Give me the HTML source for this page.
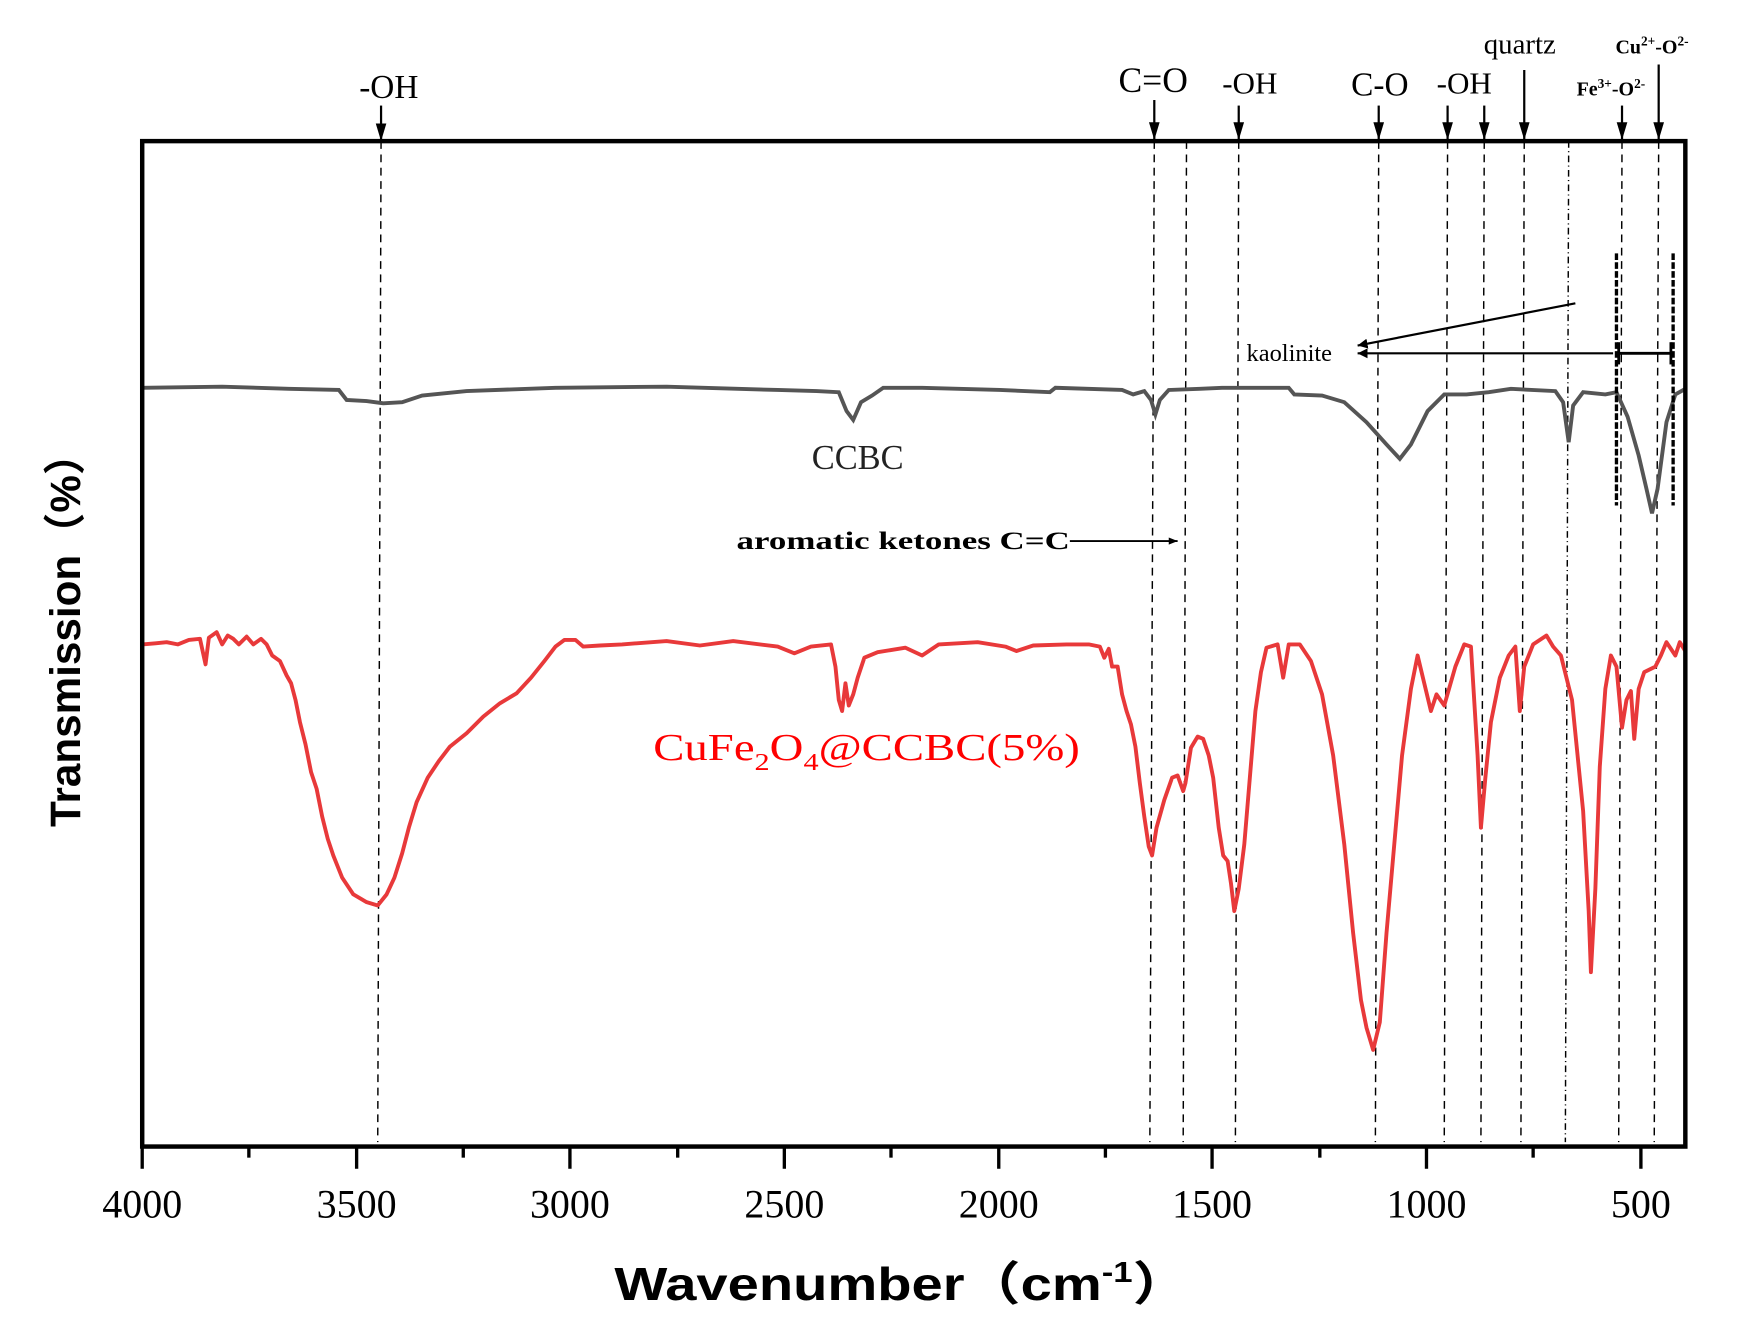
<!DOCTYPE html>
<html><head><meta charset="utf-8"><style>html,body{margin:0;padding:0;background:#fff}svg{display:block}</style></head>
<body>
<svg width="1742" height="1325" viewBox="0 0 1568 1192.6" xmlns="http://www.w3.org/2000/svg">
<rect x="0" y="0" width="1568" height="1193" fill="#fff"/>
<defs><marker id="ah" viewBox="0 0 10 10" refX="10" refY="5" markerWidth="5" markerHeight="5" orient="auto"><path d="M0,1 L10,5 L0,9 z" fill="#000"/></marker>
<marker id="ab" viewBox="0 0 10 10" refX="10" refY="5" markerWidth="9" markerHeight="9" markerUnits="userSpaceOnUse" orient="auto"><path d="M0,0 L10,5 L0,10 z" fill="#000"/></marker>
<marker id="ab2" viewBox="0 0 10 10" refX="10" refY="5" markerWidth="16" markerHeight="30" markerUnits="userSpaceOnUse" orient="auto"><path d="M0,2 L10,5 L0,8 z" fill="#000"/></marker></defs>
<g stroke="#000" stroke-width="1.3" stroke-dasharray="7,5" fill="none">
<line x1="343" y1="127" x2="340" y2="1028"/>
<line x1="1039" y1="127" x2="1035" y2="1028"/>
<line x1="1068" y1="127" x2="1065" y2="1028"/>
<line x1="1115" y1="127" x2="1112" y2="1028"/>
<line x1="1241" y1="127" x2="1238" y2="1028"/>
<line x1="1303" y1="127" x2="1300" y2="1028"/>
<line x1="1336" y1="127" x2="1333" y2="1028"/>
<line x1="1372" y1="127" x2="1369" y2="1028"/>
<line x1="1412" y1="127" x2="1409" y2="1028" stroke-dasharray="6,3,1,3"/>
<line x1="1460" y1="127" x2="1457" y2="1028"/>
<line x1="1493" y1="127" x2="1489" y2="1028"/>
</g>
<polyline fill="none" stroke="#555" stroke-width="3.5" points="128,349 200,348 260,350 305,351 312,360 330,361 345,363 362,362 380,356 420,352 500,349 600,348 700,351 735,352 755,353 762,370 768,378 775,362 785,356 795,349 830,349 900,351 945,353 950,349 1010,351 1020,355 1030,352 1036,360 1040,373 1044,360 1052,351 1080,350 1100,349 1160,349 1165,355 1190,356 1210,362 1230,380 1248,400 1260,413 1270,400 1285,370 1300,355 1320,355 1340,353 1360,350 1400,352 1407,362 1412,398 1416,365 1425,353 1445,355 1455,353 1465,375 1475,410 1482,440 1487,462 1492,440 1500,380 1508,355 1517,350"/>
<polyline fill="none" stroke="#e8393a" stroke-width="3.5" stroke-linejoin="round" points="128,580 140,579 150,578 160,580 170,576 180,575 185,598 188,574 195,569 200,580 205,572 210,575 215,580 222,573 228,580 235,575 240,580 245,590 252,595 258,608 262,615 266,630 270,650 275,670 280,695 285,710 290,735 295,755 300,770 308,790 318,805 330,812 340,815 348,805 355,790 362,768 368,745 375,722 385,700 395,685 405,672 420,660 435,645 450,633 465,624 478,610 490,595 500,582 508,576 518,576 525,582 540,581 560,580 600,577 630,581 660,577 700,582 715,588 730,582 748,580 752,600 755,630 758,640 761,615 764,635 768,625 772,610 778,592 790,587 815,583 830,590 845,580 880,578 905,582 915,586 930,581 960,580 980,580 990,582 994,592 998,584 1001,600 1006,600 1010,625 1014,640 1018,652 1022,672 1026,705 1030,735 1034,762 1037,770 1041,745 1048,720 1055,700 1060,698 1065,712 1067,705 1072,673 1078,663 1083,665 1088,680 1092,700 1097,745 1101,770 1105,775 1108,795 1111,820 1115,800 1120,760 1125,700 1130,640 1135,605 1140,583 1150,580 1155,610 1160,580 1170,580 1180,595 1190,625 1200,680 1210,760 1218,840 1225,900 1230,925 1236,945 1242,920 1248,840 1255,760 1262,680 1270,620 1276,590 1282,615 1288,640 1293,625 1300,635 1310,600 1318,580 1324,582 1330,680 1333,745 1337,700 1342,650 1350,610 1358,590 1364,582 1368,640 1372,600 1380,580 1392,572 1398,582 1405,590 1410,610 1415,630 1420,680 1425,730 1430,820 1432,875 1436,800 1440,690 1445,620 1450,590 1455,600 1460,655 1464,630 1468,622 1471,665 1475,620 1480,605 1490,600 1495,590 1500,578 1508,590 1512,578 1517,586"/>
<rect x="128" y="127" width="1389" height="905" fill="none" stroke="#000" stroke-width="4"/>
<g stroke="#000" stroke-width="3">
<line x1="128" y1="1032" x2="128" y2="1052"/><line x1="321" y1="1032" x2="321" y2="1052"/><line x1="513" y1="1032" x2="513" y2="1052"/><line x1="706" y1="1032" x2="706" y2="1052"/><line x1="899" y1="1032" x2="899" y2="1052"/><line x1="1091" y1="1032" x2="1091" y2="1052"/><line x1="1284" y1="1032" x2="1284" y2="1052"/><line x1="1477" y1="1032" x2="1477" y2="1052"/>
<line x1="224" y1="1032" x2="224" y2="1042"/><line x1="417" y1="1032" x2="417" y2="1042"/><line x1="610" y1="1032" x2="610" y2="1042"/><line x1="802" y1="1032" x2="802" y2="1042"/><line x1="995" y1="1032" x2="995" y2="1042"/><line x1="1188" y1="1032" x2="1188" y2="1042"/><line x1="1380" y1="1032" x2="1380" y2="1042"/>
</g>
<g font-family="Liberation Serif, serif" font-size="36" text-anchor="middle" fill="#000">
<text x="128" y="1096">4000</text><text x="321" y="1096">3500</text><text x="513" y="1096">3000</text><text x="706" y="1096">2500</text><text x="899" y="1096">2000</text><text x="1091" y="1096">1500</text><text x="1284" y="1096">1000</text><text x="1477" y="1096">500</text>
</g>
<text x="553" y="1170" font-family="Liberation Sans, 'Noto Sans CJK SC', sans-serif" font-weight="bold" font-size="42" textLength="517" lengthAdjust="spacingAndGlyphs">Wavenumber（cm<tspan font-size="26" dy="-16">-1</tspan><tspan dy="16">）</tspan></text>
<text transform="translate(72,567) rotate(-90)" font-family="Liberation Sans, 'Noto Sans CJK SC', sans-serif" font-weight="bold" font-size="38" text-anchor="middle">Transmission（%）</text>
<g stroke="#000" stroke-width="2" marker-end="url(#ab2)">
<line x1="343" y1="95" x2="343" y2="127"/>
<line x1="1039" y1="90" x2="1039" y2="126"/>
<line x1="1115" y1="95" x2="1115" y2="126"/>
<line x1="1241" y1="95" x2="1241" y2="126"/>
<line x1="1303" y1="95" x2="1303" y2="126"/>
<line x1="1336" y1="95" x2="1336" y2="126"/>
<line x1="1372" y1="63" x2="1372" y2="126"/>
<line x1="1460" y1="95" x2="1460" y2="126"/>
<line x1="1493" y1="58" x2="1493" y2="126"/>
</g>
<g font-family="Liberation Serif, serif" fill="#000">
<text x="350" y="88" font-size="30" text-anchor="middle">-OH</text>
<text x="1038" y="83" font-size="32" text-anchor="middle">C=O</text>
<text x="1125" y="84" font-size="28" text-anchor="middle">-OH</text>
<text x="1242" y="86" font-size="30" text-anchor="middle">C-O</text>
<text x="1318" y="84" font-size="28" text-anchor="middle">-OH</text>
<text x="1368" y="48" font-size="26" text-anchor="middle">quartz</text>
<text x="1487" y="48" font-size="18" font-weight="bold" text-anchor="middle">Cu<tspan font-size="12" dy="-7">2+</tspan><tspan dy="7">-O</tspan><tspan font-size="12" dy="-7">2-</tspan></text>
<text x="1450" y="86" font-size="18" font-weight="bold" text-anchor="middle">Fe<tspan font-size="12" dy="-7">3+</tspan><tspan dy="7">-O</tspan><tspan font-size="12" dy="-7">2-</tspan></text>
<text x="772" y="422" font-size="31" text-anchor="middle" fill="#222">CCBC</text>
<text x="588" y="684" font-size="34" fill="#f00" textLength="384" lengthAdjust="spacingAndGlyphs">CuFe<tspan font-size="22" dy="9">2</tspan><tspan dy="-9">O</tspan><tspan font-size="22" dy="9">4</tspan><tspan dy="-9">@CCBC(5%)</tspan></text>
<text x="663" y="494" font-size="23" font-weight="bold" textLength="300" lengthAdjust="spacingAndGlyphs">aromatic ketones C=C</text>
<text x="1122" y="325" font-size="22">kaolinite</text>
</g>
<g stroke="#000" stroke-width="1.6" fill="none">
<line x1="963" y1="487" x2="1060" y2="487" marker-end="url(#ah)"/>
<line x1="1418" y1="273" x2="1222" y2="311" marker-end="url(#ab)" stroke-width="2"/>
<line x1="1452" y1="318" x2="1222" y2="318" marker-end="url(#ab)" stroke-width="2"/>
<line x1="1455" y1="228" x2="1455" y2="455" stroke-width="3" stroke-dasharray="6,2"/>
<line x1="1506" y1="228" x2="1506" y2="455" stroke-width="3" stroke-dasharray="6,2"/>
<line x1="1455" y1="318" x2="1506" y2="318" stroke-width="2.5"/>
<line x1="1457" y1="308" x2="1457" y2="328" stroke-width="2.5"/>
<line x1="1504" y1="308" x2="1504" y2="328" stroke-width="2.5"/>
</g>
</svg>
</body></html>
